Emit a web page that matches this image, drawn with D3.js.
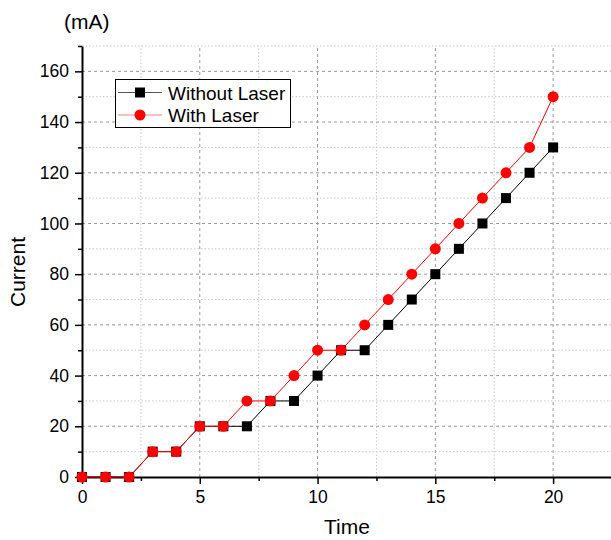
<!DOCTYPE html>
<html><head><meta charset="utf-8">
<script src="https://cdn.jsdelivr.net/npm/d3@7"></script>
<style>body{margin:0;background:#fff}svg{display:block;font-family:"Liberation Sans",Arial,sans-serif}</style>
</head><body><svg id="c" width="611" height="540"></svg>
<script>
const times = [0,1,2,3,4,5,6,7,8,9,10,11,12,13,14,15,16,17,18,19,20];
const withoutLaser = [0,0,0,10,10,20,20,20,30,30,40,50,50,60,70,80,90,100,110,120,130];
const withLaser = [0,0,0,10,10,20,20,30,30,40,50,50,60,70,80,90,100,110,120,130,150];
const xMajorTicks = [0,5,10,15,20];
const xMinorTicks = [2.5,7.5,12.5,17.5,22.5];
const yMajorTicks = [0,20,40,60,80,100,120,140,160];
const yMinorTicks = [10,30,50,70,90,110,130,150,170];
const seriesNames = ["Without Laser","With Laser"];

const svg = d3.select("#c");
const x = d3.scaleLinear().domain([0,22.5]).range([82,612]);
const y = d3.scaleLinear().domain([0,170]).range([477,46]);

// grid
const g = svg.append("g");
g.selectAll(".vmin").data(xMinorTicks).join("line")
  .attr("x1",d=>x(d)).attr("x2",d=>x(d)).attr("y1",y(0)).attr("y2",y(170))
  .attr("stroke","#c8c8c8").attr("stroke-width",1).attr("stroke-dasharray","1.5,2");
g.selectAll(".hmin").data(yMinorTicks).join("line")
  .attr("x1",x(0)).attr("x2",x(22.5)).attr("y1",d=>y(d)).attr("y2",d=>y(d))
  .attr("stroke","#c8c8c8").attr("stroke-width",1).attr("stroke-dasharray","1.5,2");
g.selectAll(".vmaj").data(xMajorTicks.filter(d=>d>0)).join("line")
  .attr("x1",d=>x(d)).attr("x2",d=>x(d)).attr("y1",y(0)).attr("y2",y(170))
  .attr("stroke","#999").attr("stroke-width",1).attr("stroke-dasharray","3,3");
g.selectAll(".hmaj").data(yMajorTicks.filter(d=>d>0)).join("line")
  .attr("x1",x(0)).attr("x2",x(22.5)).attr("y1",d=>y(d)).attr("y2",d=>y(d))
  .attr("stroke","#999").attr("stroke-width",1).attr("stroke-dasharray","3,3");

// axes
svg.append("g").attr("transform",`translate(0,${y(0)})`)
  .call(d3.axisBottom(x).tickValues(xMajorTicks).tickSize(7).tickSizeOuter(0).tickPadding(7));
svg.append("g").attr("transform",`translate(0,${y(0)})`)
  .call(d3.axisBottom(x).tickValues(xMinorTicks).tickSize(4).tickSizeOuter(0).tickFormat(""))
  .call(s=>s.select(".domain").remove());
svg.append("g").attr("transform",`translate(${x(0)},0)`)
  .call(d3.axisLeft(y).tickValues(yMajorTicks).tickSize(7).tickSizeOuter(0).tickPadding(6));
svg.append("g").attr("transform",`translate(${x(0)},0)`)
  .call(d3.axisLeft(y).tickValues(yMinorTicks).tickSize(4).tickSizeOuter(0).tickFormat(""))
  .call(s=>s.select(".domain").remove());
svg.selectAll(".domain").attr("stroke","#000").attr("stroke-width",2);
svg.selectAll(".tick line").attr("stroke","#000").attr("stroke-width",1.5);
svg.selectAll(".tick text").attr("font-size",17.5).attr("fill","#000")
  .attr("font-family","'Liberation Sans',Arial,sans-serif");

// titles
svg.append("text").attr("x",347).attr("y",534).attr("text-anchor","middle")
  .attr("font-size",21).text("Time");
svg.append("text").attr("transform","translate(25,272) rotate(-90)").attr("text-anchor","middle")
  .attr("font-size",21).text("Current");
svg.append("text").attr("x",64).attr("y",29).attr("font-size",21).text("(mA)");

// series
const line = d3.line().x((d,i)=>x(times[i])).y(d=>y(d));
svg.append("path").datum(withoutLaser).attr("d",line).attr("fill","none").attr("stroke","#000").attr("stroke-width",1);
svg.selectAll(".sq").data(withoutLaser).join("rect")
  .attr("x",(d,i)=>x(times[i])-5).attr("y",d=>y(d)-5).attr("width",10).attr("height",10).attr("fill","#000");
svg.append("path").datum(withLaser).attr("d",line).attr("fill","none").attr("stroke","#ff0000").attr("stroke-width",1);
svg.selectAll(".ci").data(withLaser).join("circle")
  .attr("cx",(d,i)=>x(times[i])).attr("cy",d=>y(d)).attr("r",5.5).attr("fill","#ff0000");

// legend
const lg = svg.append("g");
lg.append("rect").attr("x",115.5).attr("y",79.5).attr("width",175).attr("height",48)
  .attr("fill","#fff").attr("stroke","#000").attr("stroke-width",1);
const lcols = ["#555","#f08080"];
seriesNames.forEach((n,i)=>{
  const yy = 92.5 + i*22.5;
  lg.append("line").attr("x1",118).attr("x2",162).attr("y1",yy).attr("y2",yy).attr("stroke",lcols[i]).attr("stroke-width",1.2);
  if(i===0) lg.append("rect").attr("x",135).attr("y",yy-5).attr("width",10).attr("height",10).attr("fill","#000");
  else lg.append("circle").attr("cx",140).attr("cy",yy).attr("r",5.5).attr("fill","#ff0000");
  lg.append("text").attr("x",168).attr("y",yy+7).attr("font-size",19).text(n);
});
</script></body></html>
